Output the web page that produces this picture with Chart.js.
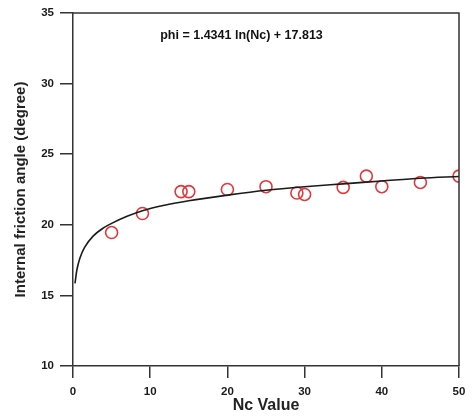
<!DOCTYPE html>
<html>
<head>
<meta charset="utf-8">
<script src="https://cdn.jsdelivr.net/npm/chart.js@4/dist/chart.umd.min.js"></script>
<style>
    html, body { margin: 0; padding: 0; background: #fff; }
    #wrap { width: 473px; height: 416px; }
</style>
</head>
<body>
<div id="wrap"><canvas id="chart"></canvas></div>
<script>
// gemessene Punkte (Nc, phi)
const ncWerte = [5, 9, 14, 15, 20, 25, 29, 30, 35, 38, 40, 45, 50];
const phiWerte = [19.45, 20.8, 22.35, 22.35, 22.5, 22.7, 22.25, 22.15, 22.65, 23.45, 22.7, 23.0, 23.45];

// Kurve
const kurveNc = [0.26, 0.5, 0.9, 1.5, 2.6, 4, 5, 7, 9, 12, 15, 20, 25, 30, 35, 40, 45, 50];
const kurvePhi = [15.85, 16.8, 17.65, 18.4, 19.2, 19.8, 20.1, 20.6, 21.0, 21.4, 21.7, 22.1, 22.45, 22.7, 22.9, 23.1, 23.3, 23.42];

const xTicks = [0, 10, 20, 30, 40, 50];
const yTicks = [10, 15, 20, 25, 30, 35];
const formelText = "phi = 1.4341 ln(Nc) + 17.813";

const achsenFarbe = "#333333";
const schrift = "'Liberation Sans', Arial, sans-serif";

const rahmenPlugin = {
    id: "rahmen",
    afterDatasetsDraw(chart) {
        const { ctx, chartArea, scales } = chart;
        ctx.save();
        ctx.strokeStyle = achsenFarbe;
        ctx.lineWidth = 1.5;
        ctx.beginPath();
        ctx.moveTo(chartArea.left, chartArea.top);
        ctx.lineTo(chartArea.right, chartArea.top);
        ctx.lineTo(chartArea.right, chartArea.bottom);
        ctx.stroke();
        ctx.fillStyle = "#111";
        ctx.font = "bold 12.5px " + schrift;
        ctx.textBaseline = "middle";
        ctx.fillText(formelText, scales.x.getPixelForValue(11.3), scales.y.getPixelForValue(33.4));
        ctx.restore();
    },
};

new Chart(document.getElementById("chart"), {
    type: "scatter",
    data: {
        datasets: [
            {
                label: "Kurve",
                type: "line",
                data: kurveNc.map((x, i) => ({ x: x, y: kurvePhi[i] })),
                borderColor: "#1a1a1a",
                borderWidth: 1.6,
                pointRadius: 0,
                fill: false,
                cubicInterpolationMode: "monotone",
            },
            {
                label: "Messwerte",
                data: ncWerte.map((x, i) => ({ x: x, y: phiWerte[i] })),
                borderColor: "#e0383c",
                backgroundColor: "rgba(0,0,0,0)",
                borderWidth: 1.6,
                pointRadius: 6,
            },
        ],
    },
    options: {
        responsive: true,
        maintainAspectRatio: false,
        animation: false,
        layout: { padding: { left: 12, right: 14, top: 13, bottom: 0 } },
        plugins: {
            legend: { display: false },
            tooltip: { enabled: false },
        },
        scales: {
            x: {
                type: "linear",
                min: 0,
                max: 50,
                afterBuildTicks: (axis) => { axis.ticks = xTicks.map((v) => ({ value: v })); },
                afterFit: (axis) => { axis.height = 50; },
                grid: { drawOnChartArea: false, drawTicks: true, tickLength: 12, color: achsenFarbe, lineWidth: 1.5 },
                border: { color: achsenFarbe, width: 1.5 },
                ticks: { color: "#1a1a1a", padding: 7, font: { family: schrift, size: 11.5, weight: "bold" } },
                title: { display: true, text: "Nc Value", color: "#222", padding: { top: 0, bottom: 1 }, font: { family: schrift, size: 16, weight: "bold" } },
            },
            y: {
                min: 10,
                max: 35,
                afterBuildTicks: (axis) => { axis.ticks = yTicks.map((v) => ({ value: v })); },
                afterFit: (axis) => { axis.width = 61; },
                grid: { drawOnChartArea: false, drawTicks: true, tickLength: 13, color: achsenFarbe, lineWidth: 1.5 },
                border: { color: achsenFarbe, width: 1.5 },
                ticks: { color: "#1a1a1a", padding: 6, font: { family: schrift, size: 11.5, weight: "bold" } },
                title: { display: true, text: "Internal friction angle (degree)", color: "#222", padding: { top: 0, bottom: 2 }, font: { family: schrift, size: 15, weight: "bold" } },
            },
        },
    },
    plugins: [rahmenPlugin],
});
</script>
</body>
</html>
